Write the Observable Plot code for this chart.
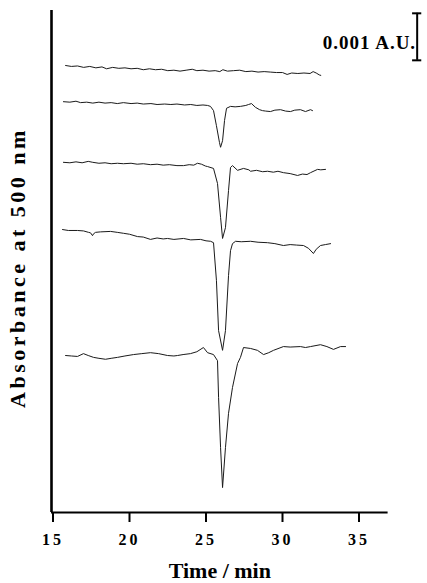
<!DOCTYPE html>
<html><head><meta charset="utf-8">
<script src="https://cdn.jsdelivr.net/npm/d3@7"></script>
<script src="https://cdn.jsdelivr.net/npm/@observablehq/plot@0.6"></script>
<style>body{margin:0;background:#fff} #chart svg{display:block}</style>
</head><body><div id="chart"></div>
<script>
// Time (min), absorbance (mAU, traces stacked with offsets as in the figure)
const trace1 = [[15.92,9.51],[16.3,9.49],[16.7,9.50],[17.1,9.47],[17.5,9.49],[17.9,9.46],[18.3,9.48],[18.6,9.44],[19.0,9.47],[19.4,9.45],[19.8,9.46],[20.2,9.44],[20.6,9.45],[21.0,9.42],[21.4,9.44],[21.8,9.42],[22.2,9.43],[22.6,9.40],[23.0,9.41],[23.4,9.39],[23.8,9.41],[24.2,9.43],[24.5,9.40],[24.9,9.41],[25.3,9.39],[25.7,9.40],[26.0,9.38],[26.2,9.42],[26.5,9.39],[26.9,9.40],[27.3,9.41],[27.7,9.38],[28.1,9.39],[28.5,9.37],[28.9,9.38],[29.3,9.37],[29.7,9.36],[30.1,9.36],[30.4,9.32],[30.7,9.35],[31.1,9.34],[31.5,9.35],[31.9,9.34],[32.1,9.38],[32.3,9.35],[32.5,9.31],[32.6,9.30]];
const trace2 = [[15.78,8.74],[16.2,8.73],[16.6,8.75],[16.9,8.72],[17.3,8.73],[17.7,8.71],[18.1,8.73],[18.5,8.71],[18.9,8.72],[19.3,8.70],[19.7,8.72],[20.2,8.70],[20.6,8.71],[21.0,8.69],[21.5,8.70],[21.9,8.68],[22.4,8.69],[22.8,8.68],[23.2,8.69],[23.7,8.67],[24.1,8.68],[24.5,8.66],[24.9,8.67],[25.2,8.66],[25.39,8.64],[25.59,8.55],[25.78,8.23],[25.98,7.87],[26.05,7.77],[26.18,7.91],[26.31,8.34],[26.44,8.60],[26.7,8.64],[27.0,8.63],[27.35,8.64],[27.7,8.66],[27.88,8.68],[28.07,8.70],[28.33,8.62],[28.6,8.57],[28.79,8.55],[29.0,8.54],[29.31,8.53],[29.6,8.56],[29.97,8.57],[30.3,8.54],[30.62,8.53],[30.9,8.56],[31.27,8.57],[31.6,8.53],[31.93,8.57],[32.06,8.55]];
const trace3 = [[15.78,7.45],[16.2,7.44],[16.6,7.46],[17.0,7.44],[17.4,7.47],[17.7,7.45],[18.1,7.43],[18.5,7.44],[18.9,7.42],[19.31,7.43],[19.7,7.42],[20.2,7.43],[20.6,7.41],[21.0,7.42],[21.47,7.40],[21.9,7.41],[22.3,7.39],[22.7,7.40],[23.2,7.38],[23.63,7.38],[24.0,7.40],[24.3,7.39],[24.54,7.43],[24.8,7.41],[25.07,7.37],[25.20,7.36],[25.59,7.32],[25.85,7.00],[26.05,6.28],[26.18,5.83],[26.37,6.06],[26.57,6.85],[26.70,7.34],[26.83,7.38],[27.16,7.28],[27.55,7.32],[27.9,7.29],[28.01,7.26],[28.4,7.28],[28.8,7.25],[29.12,7.26],[29.5,7.24],[29.8,7.26],[30.16,7.23],[30.6,7.21],[31.08,7.17],[31.4,7.20],[31.7,7.19],[31.93,7.23],[32.39,7.30],[32.6,7.29],[32.91,7.30]];
const trace4 = [[15.72,6.02],[16.1,6.00],[16.70,6.00],[17.1,5.99],[17.42,5.96],[17.55,5.95],[17.68,5.89],[17.75,5.93],[17.88,5.96],[18.2,5.97],[18.86,5.98],[19.3,5.96],[19.71,5.94],[20.1,5.92],[20.62,5.87],[21.0,5.86],[21.47,5.81],[21.9,5.84],[22.3,5.82],[22.58,5.83],[23.0,5.81],[23.63,5.83],[24.1,5.80],[24.74,5.81],[25.1,5.78],[25.4,5.77],[25.59,5.74],[25.78,4.94],[25.92,3.87],[26.18,3.45],[26.37,3.87],[26.57,5.04],[26.70,5.57],[26.83,5.72],[27.03,5.77],[27.4,5.76],[28.01,5.77],[28.5,5.75],[29.12,5.74],[29.6,5.72],[30.16,5.68],[30.6,5.70],[31.0,5.69],[31.47,5.68],[31.8,5.62],[32.12,5.51],[32.3,5.60],[32.58,5.68],[32.9,5.70],[33.24,5.72]];
const trace5 = [[15.92,3.34],[16.3,3.33],[16.70,3.32],[17.09,3.38],[17.4,3.34],[17.75,3.30],[18.1,3.28],[18.53,3.26],[18.9,3.28],[19.31,3.30],[19.8,3.33],[20.36,3.36],[20.9,3.38],[21.47,3.40],[22.0,3.38],[22.58,3.34],[23.0,3.33],[23.24,3.34],[23.6,3.36],[24.08,3.38],[24.5,3.42],[24.93,3.51],[25.20,3.40],[25.59,3.36],[25.85,3.23],[25.92,2.45],[26.05,1.38],[26.18,0.53],[26.37,1.38],[26.57,2.11],[26.83,2.66],[27.16,3.17],[27.35,3.30],[27.55,3.51],[28.01,3.49],[28.46,3.45],[28.86,3.36],[29.2,3.40],[29.51,3.45],[30.16,3.53],[30.6,3.52],[31.27,3.53],[31.6,3.51],[31.93,3.53],[32.58,3.57],[33.0,3.53],[33.43,3.47],[33.89,3.53],[34.22,3.53]];
const traces = [trace1, trace2, trace3, trace4, trace5];
const xTicks = [15, 20, 25, 30, 35];
const xDomain = [15, 37];
const yDomain = [0, 10.68];
const xLabel = "Time / min";
const yLabel = "Absorbance at 500 nm";
const scaleBarLabel = "0.001 A.U.";
const scaleBarValue = 1;      // mAU (= 0.001 A.U.)
const scaleBarTime = 38.9;
const scaleBarTop = 10.62;

const rows = traces.flatMap((tr, i) => tr.map(([t, a]) => ({series: i + 1, t, a})));
const serif = "'Liberation Serif', 'Times New Roman', serif";

const plot = Plot.plot({
  width: 427, height: 583,
  marginTop: 10, marginBottom: 71, marginLeft: 51, marginRight: 39.4,
  x: {domain: xDomain},
  y: {domain: yDomain, axis: null},
  style: {background: "#fff", fontFamily: serif, color: "#000"},
  marks: [
    Plot.line(rows, {x: "t", y: "a", z: "series", stroke: "#1a1a1a", strokeWidth: 1}),
    Plot.ruleX([xDomain[0]], {y1: yDomain[0], y2: yDomain[1], stroke: "#000", strokeWidth: 2.6}),
    Plot.ruleY([yDomain[0]], {x1: xDomain[0], x2: xDomain[1], stroke: "#000", strokeWidth: 2}),
    Plot.axisX(xTicks, {tickSize: 10, tickPadding: 11, fontSize: 16, fontWeight: "bold", strokeWidth: 2, color: "#000", label: null, dx: 1.5}),
    Plot.text([xLabel], {frameAnchor: "bottom", dy: 58, fontSize: 22, fontWeight: "bold", lineAnchor: "middle", fill: "#000"}),
    Plot.text([yLabel], {frameAnchor: "left", rotate: -90, textAnchor: "middle", dx: -34, dy: 6, fontSize: 22, fontWeight: "bold", lineAnchor: "middle", fill: "#000"}),
    Plot.ruleX([scaleBarTime], {y1: scaleBarTop - scaleBarValue, y2: scaleBarTop, stroke: "#000", strokeWidth: 2}),
    Plot.ruleY([scaleBarTop - scaleBarValue, scaleBarTop], {x1: scaleBarTime - 0.3, x2: scaleBarTime + 0.3, stroke: "#000", strokeWidth: 2}),
    Plot.text([scaleBarLabel], {x: scaleBarTime - 0.2, y: scaleBarTop - scaleBarValue * 0.62, textAnchor: "end", dx: 2, fontSize: 19, fontWeight: "bold", fill: "#000"})
  ]
});
const svg = d3.select(plot);
svg.selectAll('g[aria-label="x-axis tick label"] text').style("letter-spacing", "3px");
svg.selectAll('g[aria-label="text"] text').filter(function(){ return this.textContent === yLabel; }).style("letter-spacing", "3.5px");
svg.selectAll('g[aria-label="text"] text').filter(function(){ return this.textContent === scaleBarLabel; }).style("letter-spacing", "1px");
document.getElementById("chart").appendChild(plot);
</script>
</body></html>
